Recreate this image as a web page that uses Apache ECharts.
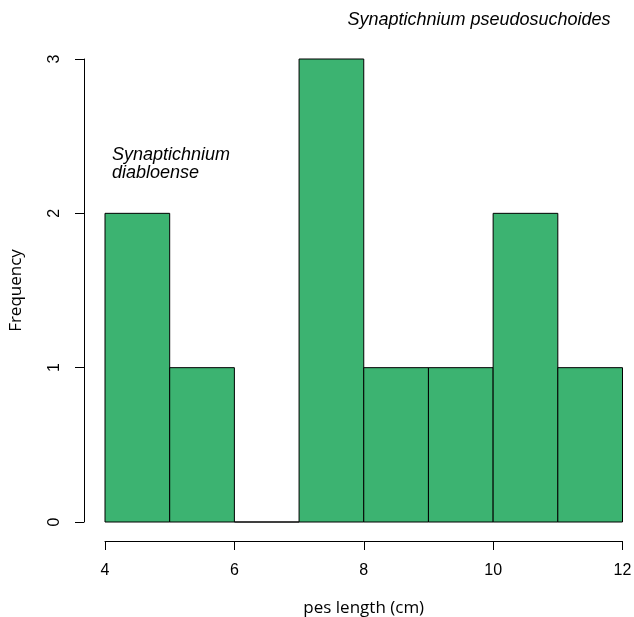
<!DOCTYPE html>
<html>
<head>
<meta charset="utf-8">
<script src="https://cdn.jsdelivr.net/npm/echarts@6/dist/echarts.min.js"></script>
<style>html,body{margin:0;padding:0;background:#fff}#c{width:634px;height:617px}</style>
</head>
<body>
<div id="c"></div>
<script>
var binStarts = [4, 5, 6, 7, 8, 9, 10, 11];
var binEnds = [5, 6, 7, 8, 9, 10, 11, 12];
var counts = [2, 1, 0, 3, 1, 1, 2, 1];
var xTicks = [4, 6, 8, 10, 12];
var yTicks = [0, 1, 2, 3];

var data = binStarts.map(function (s, i) { return [s, binEnds[i], counts[i]]; });
var chart = echarts.init(document.getElementById('c'));
chart.setOption({
  animation: false,
  backgroundColor: '#fff',
  grid: { left: 105, right: 11.5, top: 59, bottom: 95, containLabel: false, outerBoundsMode: 'none' },
  xAxis: {
    type: 'value', min: 4, max: 12, interval: 2, offset: 19,
    name: 'pes length (cm)', nameLocation: 'middle', nameGap: 59,
    nameTextStyle: { fontFamily: 'Open Sans', fontSize: 17, color: '#000' },
    axisLine: { show: true, onZero: false, lineStyle: { color: '#000', width: 1 } },
    axisTick: { show: true, length: 9, lineStyle: { color: '#000' } },
    axisLabel: { margin: 22, fontFamily: 'Liberation Sans', fontSize: 16, color: '#000' },
    splitLine: { show: false }
  },
  yAxis: {
    type: 'value', min: 0, max: 3, interval: 1, offset: 21,
    name: 'Frequency', nameLocation: 'middle', nameGap: 59,
    nameTextStyle: { fontFamily: 'Open Sans', fontSize: 17, color: '#000' },
    axisLine: { show: true, onZero: false, lineStyle: { color: '#000', width: 1 } },
    axisTick: { show: true, length: 9, lineStyle: { color: '#000' } },
    axisLabel: { rotate: 90, margin: 21, fontFamily: 'Liberation Sans', fontSize: 16, color: '#000' },
    splitLine: { show: false }
  },
  series: [{
    type: 'custom',
    data: data,
    renderItem: function (params, api) {
      var p0 = api.coord([api.value(0), api.value(2)]);
      var p1 = api.coord([api.value(1), 0]);
      return {
        type: 'rect',
        shape: { x: p0[0], y: p0[1], width: p1[0] - p0[0], height: p1[1] - p0[1] },
        style: { fill: '#3CB371', stroke: '#000', lineWidth: 1 }
      };
    }
  }],
  graphic: [
    { type: 'text', x: 479, y: 20,
      style: { text: 'Synaptichnium pseudosuchoides', font: 'italic 18px "Liberation Sans"', fill: '#000', textAlign: 'center', textVerticalAlign: 'middle' } },
    { type: 'text', x: 112, y: 164,
      style: { text: 'Synaptichnium\ndiabloense', font: 'italic 18px "Liberation Sans"', fill: '#000', lineHeight: 18, textAlign: 'left', textVerticalAlign: 'middle' } }
  ]
});
</script>
</body>
</html>
